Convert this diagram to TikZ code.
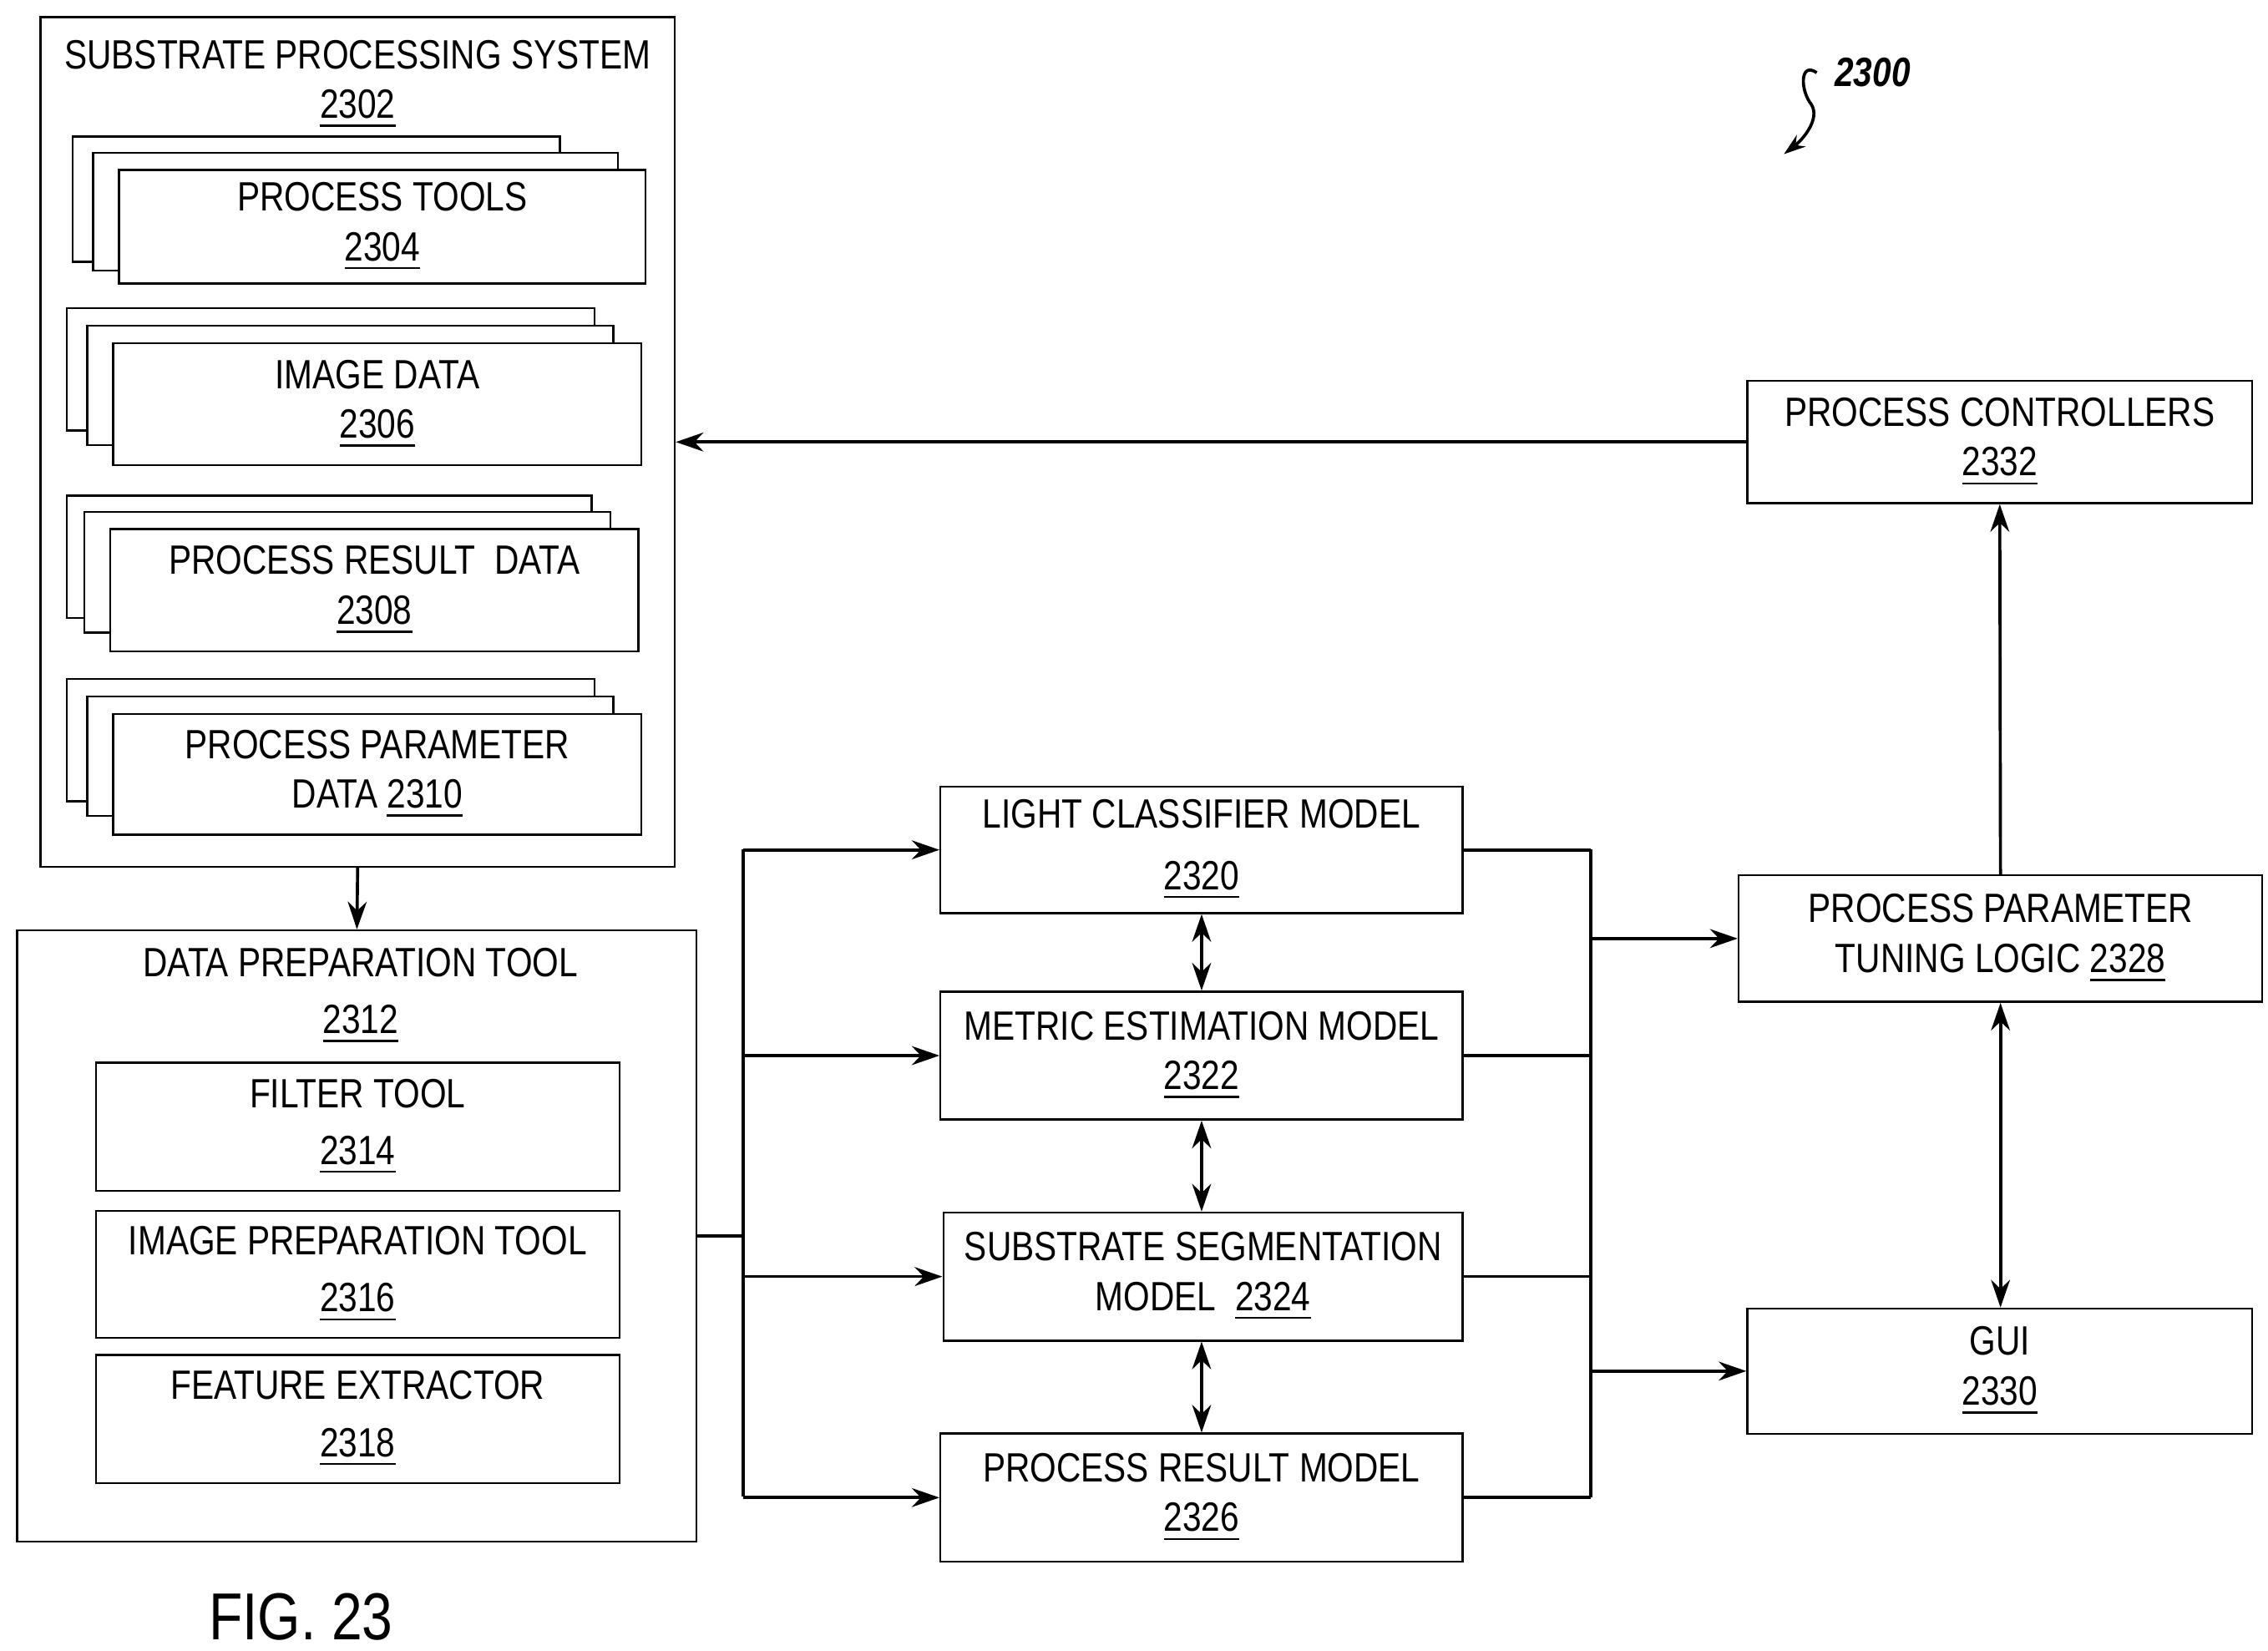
\documentclass[tikz,border=0pt]{standalone}
\usepackage{fontspec}
\setmainfont{Liberation Sans}[FakeStretch=0.83]
\usetikzlibrary{arrows.meta, calc}

\begin{document}
\begin{tikzpicture}[x=0.01cm, y=-0.01cm,
        font=\fontsize{8}{9.7}\selectfont,
        box/.style={draw, line width=0.4pt, fill=white, align=center, inner sep=0pt},
        title/.style={align=center, inner sep=0pt},
        sheet/.style={draw, line width=0.4pt, fill=white},
        arr/.style={-{Stealth[length=0.19cm, width=0.13cm]}, line width=0.6pt},
        darr/.style={{Stealth[length=0.19cm, width=0.13cm]}-{Stealth[length=0.19cm, width=0.13cm]}, line width=0.6pt},
        ln/.style={line width=0.6pt}]
        \useasboundingbox (0, 0) rectangle (1560, 1135);

        % substrate processing system
        \node (sps) [box, minimum width=4.36cm, minimum height=5.84cm] at (246, 304) {};
        \node (sps title) [title] at (246, 58) {SUBSTRATE PROCESSING SYSTEM\\\underline{2302}};

        \draw [sheet] (50, 94) rectangle (385, 180);
        \draw [sheet] (64, 105) rectangle (425, 186);
        \node (tools) [box, minimum width=3.62cm, minimum height=0.78cm] at (263, 156) {PROCESS TOOLS\\\underline{2304}};

        \draw [sheet] (46, 212) rectangle (409, 296);
        \draw [sheet] (60, 224) rectangle (422, 306);
        \node (image) [box, minimum width=3.63cm, minimum height=0.84cm] at (259.5, 278) {IMAGE DATA\\\underline{2306}};

        \draw [sheet] (46, 341) rectangle (407, 425);
        \draw [sheet] (58, 352) rectangle (420, 435);
        \node (result) [box, minimum width=3.63cm, minimum height=0.84cm] at (257.5, 406) {PROCESS RESULT\ \ DATA\\\underline{2308}};

        \draw [sheet] (46, 467) rectangle (409, 551);
        \draw [sheet] (60, 479) rectangle (422, 561);
        \node (param) [box, minimum width=3.63cm, minimum height=0.83cm] at (259.5, 532.5) {PROCESS PARAMETER\\DATA \underline{2310}};

        % data preparation tool
        \node (dpt) [box, minimum width=4.67cm, minimum height=4.20cm] at (245.5, 850) {};
        \node (dpt title) [title] at (248, 685) {DATA PREPARATION TOOL\\[0.05cm]\underline{2312}};
        \node (filter) [box, minimum width=3.60cm, minimum height=0.88cm] at (246, 775) {FILTER TOOL\\[0.05cm]\underline{2314}};
        \node (prep) [box, minimum width=3.60cm, minimum height=0.87cm] at (246, 876.5) {IMAGE PREPARATION TOOL\\[0.05cm]\underline{2316}};
        \node (feat) [box, minimum width=3.60cm, minimum height=0.88cm] at (246, 976) {FEATURE EXTRACTOR\\[0.05cm]\underline{2318}};

        % models
        \node (lc) [box, minimum width=3.59cm, minimum height=0.87cm] at (826.5, 584.5) {LIGHT CLASSIFIER MODEL\\[0.08cm]\underline{2320}};
        \node (me) [box, minimum width=3.59cm, minimum height=0.88cm] at (826.5, 726) {METRIC ESTIMATION MODEL\\\underline{2322}};
        \node (ss) [box, minimum width=3.57cm, minimum height=0.88cm] at (827.5, 878) {SUBSTRATE SEGMENTATION\\MODEL\ \ \underline{2324}};
        \node (pr) [box, minimum width=3.59cm, minimum height=0.88cm] at (826.5, 1030) {PROCESS RESULT MODEL\\\underline{2326}};

        % right side
        \node (pc) [box, minimum width=3.47cm, minimum height=0.84cm] at (1375.5, 304) {PROCESS CONTROLLERS\\\underline{2332}};
        \node (tune) [box, minimum width=3.60cm, minimum height=0.87cm] at (1376, 645.5) {PROCESS PARAMETER\\TUNING LOGIC \underline{2328}};
        \node (gui) [box, minimum width=3.47cm, minimum height=0.86cm] at (1375.5, 943) {GUI\\\underline{2330}};

        % connectors
        \draw [arr] (sps.south) -- (dpt.north);
        \coordinate (split) at (511, 850);
        \draw [ln] (dpt.east |- split) -- (split);
        \draw [ln] (511, 584) -- (511, 1029);
        \foreach \m in {lc, me, ss, pr}
            \draw [arr] (split |- \m.west) -- (\m.west);
        \draw [darr] (lc.south) -- (me.north);
        \draw [darr] (me.south) -- (me.south |- ss.north);
        \draw [darr] (me.south |- ss.south) -- (me.south |- pr.north);

        \coordinate (join) at (1094, 584);
        \foreach \m in {lc, me, ss, pr}
            \draw [ln] (\m.east) -- (join |- \m.east);
        \draw [ln] (join) -- (1094, 1030);
        \draw [arr] (join |- tune.west) -- (tune.west);
        \draw [arr] (join |- gui.west) -- (gui.west);
        \draw [arr] (tune.north) -- (pc.south);
        \draw [darr] (tune.south) -- (tune.south |- gui.north);
        \draw [arr] (pc.west) -- (pc.west -| sps.east);

        % reference numeral
        \node (num) [font=\fontsize{8}{9.7}\selectfont\bfseries\itshape] at (1288, 50) {2300};
        \coordinate (num tip) at (1227, 106);
        \draw [-{Stealth[length=0.15cm, width=0.1cm]}, line width=0.6pt] (num.west) .. controls (1238, 42) and (1238, 62) .. (1246, 72) .. controls (1252, 82) and (1240, 96) .. (num tip);

        \node (fig) [font=\fontsize{13}{15}\selectfont] at (207, 1112) {FIG. 23};
\end{tikzpicture}
\end{document}
